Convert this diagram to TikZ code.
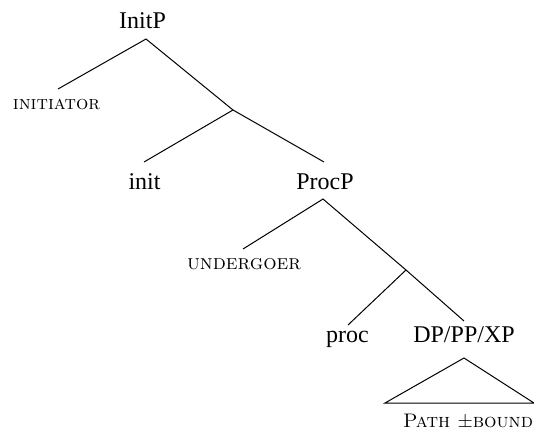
\documentclass[tikz,border=0pt]{standalone}
\usepackage{fontspec}
\newfontfamily\tms{Liberation Serif}
\usepackage{graphicx}
\newcommand{\scx}[2]{\resizebox{#1}{!}{\fontsize{10}{12}\selectfont\textsc{#2}}}
\tikzset{
  lbl/.style={anchor=base, inner sep=0pt, font=\fontsize{12}{14}\selectfont\tms},
  sclbl/.style={anchor=base, inner sep=0pt},
  br/.style={line width=0.5pt, black},
}
\begin{document}
\begin{tikzpicture}[x=0.5pt, y=-0.5pt]
\useasboundingbox (0,0) rectangle (534,433);
% text nodes
\node[lbl] (initp) at (142.5,29) {InitP};
\node[sclbl] (initiator) at (56.5,109) {\scx{43.5pt}{initiator}};
\node[lbl] (init) at (144.5,189) {init};
\node[lbl] (procp) at (325,189) {ProcP};
\node[sclbl] (undergoer) at (244,269) {\scx{57pt}{undergoer}};
\node[lbl] (proc) at (347.5,342) {proc};
\node[lbl] (dp) at (464,342) {DP/PP/XP};
\node[sclbl] (path) at (468,427) {\scx{65pt}{Path $\pm$bound}};
% attachment points
\coordinate (initp-b) at (146,39);
\coordinate (initiator-t) at (58,89);
\coordinate (b1) at (233,110);
\coordinate (init-t) at (144,162);
\coordinate (procp-t) at (324,162);
\coordinate (procp-b) at (323,199);
\coordinate (undergoer-t) at (243,249);
\coordinate (b2) at (406,270);
\coordinate (proc-t) at (348,325);
\coordinate (dp-t) at (464,321);
\coordinate (tri-top) at (464,358);
\coordinate (tri-l) at (385,403);
\coordinate (tri-r) at (534,403);
% branches
\draw[br] (initiator-t) -- (initp-b) -- (b1);
\draw[br] (init-t) -- (b1) -- (procp-t);
\draw[br] (undergoer-t) -- (procp-b) -- (b2);
\draw[br] (proc-t) -- (b2) -- (dp-t);
\draw[br] (tri-l) -- (tri-top) -- (tri-r) -- cycle;
\end{tikzpicture}
\end{document}
